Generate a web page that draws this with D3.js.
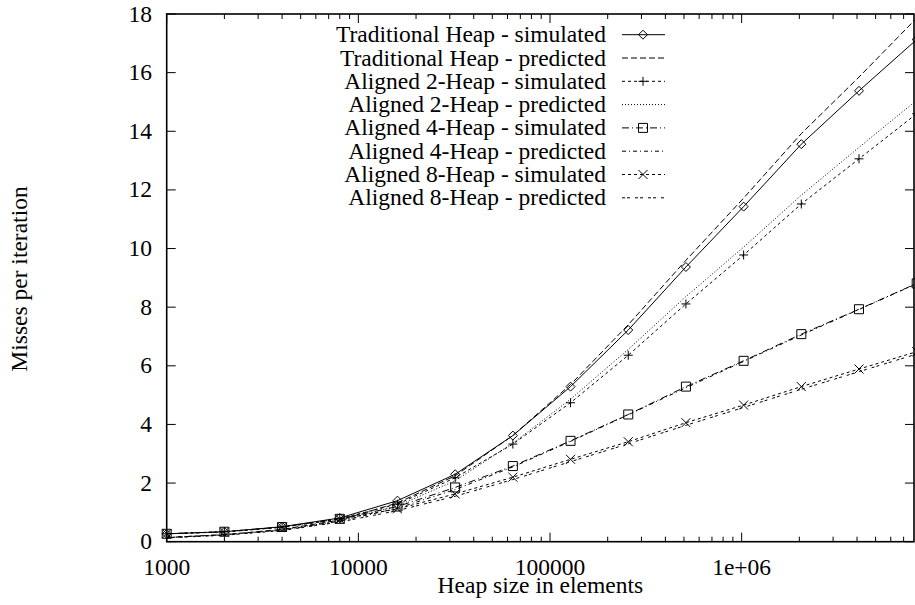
<!DOCTYPE html>
<html>
<head>
<meta charset="utf-8">
<script src="https://cdn.jsdelivr.net/npm/d3@7"></script>
<style>
body { margin: 0; background: #fff; }
text { font-family: "Liberation Serif", "DejaVu Serif", serif; fill: #000; }
</style>
</head>
<body>
<div id="chart"></div>
<script>
// heap sizes (elements)
const sizes = [1000, 2000, 4000, 8000, 16000, 32000, 64000, 128000, 256000, 512000, 1024000, 2048000, 4096000, 8192000];

const tradSim  = [0.27, 0.34, 0.51, 0.81, 1.40, 2.30, 3.62, 5.29, 7.22, 9.37, 11.43, 13.56, 15.38, 17.13];
const tradPred = [0.14, 0.24, 0.42, 0.74, 1.32, 2.25, 3.62, 5.36, 7.40, 9.60, 11.72, 13.92, 15.85, 17.86];
const al2Sim   = [0.27, 0.34, 0.50, 0.79, 1.28, 2.18, 3.33, 4.74, 6.36, 8.11, 9.78, 11.52, 13.06, 14.60];
const al2Pred  = [0.14, 0.23, 0.40, 0.71, 1.22, 2.08, 3.36, 4.86, 6.56, 8.36, 10.05, 11.82, 13.45, 15.06];
const al4Sim   = [0.27, 0.34, 0.50, 0.78, 1.20, 1.85, 2.58, 3.44, 4.34, 5.29, 6.17, 7.08, 7.93, 8.81];
const al4Pred  = [0.15, 0.24, 0.40, 0.70, 1.14, 1.78, 2.55, 3.42, 4.33, 5.25, 6.15, 7.05, 7.92, 8.80];
const al8Sim   = [0.27, 0.33, 0.49, 0.77, 1.12, 1.63, 2.20, 2.81, 3.41, 4.06, 4.66, 5.29, 5.89, 6.48];
const al8Pred  = [0.13, 0.22, 0.38, 0.67, 1.06, 1.55, 2.12, 2.73, 3.34, 3.97, 4.58, 5.20, 5.80, 6.40];

const labels = ["Traditional Heap - simulated", "Traditional Heap - predicted",
                "Aligned 2-Heap - simulated", "Aligned 2-Heap - predicted",
                "Aligned 4-Heap - simulated", "Aligned 4-Heap - predicted",
                "Aligned 8-Heap - simulated", "Aligned 8-Heap - predicted"];

const xMajor = [1000, 10000, 100000, 1000000];
const xMajorLabels = ["1000", "10000", "100000", "1e+06"];
const yTicks = [0, 2, 4, 6, 8, 10, 12, 14, 16, 18];

const series = [
  { vals: tradSim,  dash: null,        mark: "diamond" },
  { vals: tradPred, dash: "6,3",       mark: null },
  { vals: al2Sim,   dash: "3,3",       mark: "plus" },
  { vals: al2Pred,  dash: "1,2",       mark: null },
  { vals: al4Sim,   dash: "7,3,1,3",   mark: "box" },
  { vals: al4Pred,  dash: "4,3,1,3",   mark: null },
  { vals: al8Sim,   dash: "3,3",       mark: "cross" },
  { vals: al8Pred,  dash: "3,2,3,5",   mark: null }
];

const W = 915, H = 605;
const pLeft = 166.7, pTop = 14, pRight = 914, pBottom = 541.7;
const fs = 23.5;

var svg = d3.select("#chart").append("svg")
            .attr("width", W).attr("height", H);

var x = d3.scaleLog().domain([1000, 1e7]).range([pLeft, 933.3]);
var y = d3.scaleLinear().domain([0, 18]).range([pBottom, pTop]);

// minor x ticks
var minor = [];
[1000, 10000, 100000, 1000000].forEach(function(d){
  for (var k = 2; k <= 9; k++) if (x(d*k) < pRight) minor.push(d*k);
});

var ticks = svg.append("g").attr("stroke", "#000").attr("stroke-width", 1);
ticks.selectAll(".xmaj").data(xMajor).enter().append("path")
  .attr("d", d => `M${x(d)},${pBottom}v-9M${x(d)},${pTop}v9`);
ticks.selectAll(".xmin").data(minor).enter().append("path")
  .attr("d", d => `M${x(d)},${pBottom}v-5M${x(d)},${pTop}v5`);
ticks.selectAll(".y").data(yTicks).enter().append("path")
  .attr("d", d => `M${pLeft},${y(d)}h9M${pRight},${y(d)}h-9`);

// tick labels
svg.selectAll(".xl").data(xMajor).enter().append("text")
  .attr("x", d => x(d)).attr("y", 575)
  .attr("text-anchor", "middle").attr("font-size", fs)
  .text((d, i) => xMajorLabels[i]);

svg.selectAll(".yl").data(yTicks).enter().append("text")
  .attr("x", 152).attr("y", d => y(d) + 7.5)
  .attr("text-anchor", "end").attr("font-size", fs)
  .text(d => d);

// axis titles
svg.append("text")
  .attr("x", (pLeft + pRight) / 2).attr("y", 593)
  .attr("text-anchor", "middle").attr("font-size", fs)
  .text("Heap size in elements");

svg.append("text")
  .attr("transform", "translate(27,279) rotate(-90)")
  .attr("text-anchor", "middle").attr("font-size", fs)
  .text("Misses per iteration");

// markers
function marker(g, type, cx, cy) {
  var s = 4.5, p;
  if (type == "diamond") p = `M${cx},${cy-s}L${cx+s},${cy}L${cx},${cy+s}L${cx-s},${cy}Z`;
  if (type == "plus") p = `M${cx-s},${cy}h${2*s}M${cx},${cy-s}v${2*s}`;
  if (type == "box") p = `M${cx-s},${cy-s}h${2*s}v${2*s}h${-2*s}Z`;
  if (type == "cross") p = `M${cx-s},${cy-s}l${2*s},${2*s}M${cx+s},${cy-s}l${-2*s},${2*s}`;
  g.append("path").attr("d", p).attr("fill", "none")
    .attr("stroke", "#000").attr("stroke-width", 1);
}

var line = d3.line().x(d => x(d[0])).y(d => y(d[1]));

var plot = svg.append("g");
series.forEach(function(s){
  var pts = sizes.map((d, i) => [d, s.vals[i]]);
  plot.append("path").datum(pts)
    .attr("d", line)
    .attr("fill", "none").attr("stroke", "#000").attr("stroke-width", 1)
    .attr("stroke-dasharray", s.dash);
  if (s.mark) pts.forEach(p => marker(plot, s.mark, x(p[0]), y(p[1])));
});

// legend
var leg = svg.append("g");
labels.forEach(function(t, i){
  var cy = 34.7 + i * 23.3;
  leg.append("text").attr("x", 606).attr("y", cy + 7.5)
    .attr("text-anchor", "end").attr("font-size", fs).text(t);
  leg.append("path").attr("d", `M622,${cy}H665`)
    .attr("fill", "none").attr("stroke", "#000").attr("stroke-width", 1)
    .attr("stroke-dasharray", series[i].dash);
  if (series[i].mark) marker(leg, series[i].mark, 643, cy);
});

// frame
svg.append("rect")
  .attr("x", pLeft).attr("y", pTop)
  .attr("width", pRight - pLeft).attr("height", pBottom - pTop)
  .attr("fill", "none").attr("stroke", "#000").attr("stroke-width", 1.6);
</script>
</body>
</html>
